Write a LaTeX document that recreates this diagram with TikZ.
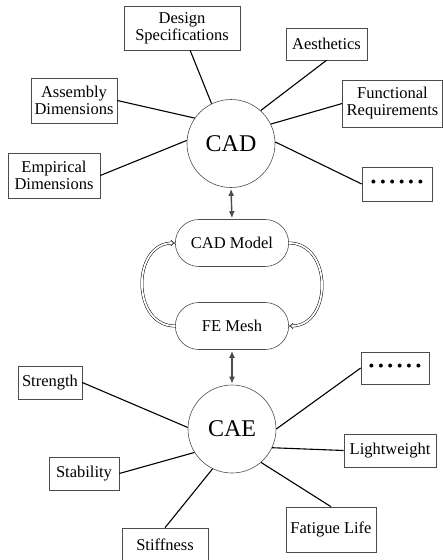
\documentclass[tikz,border=0pt]{standalone}
\usepackage{fontspec}
\setmainfont{Liberation Serif}
\usetikzlibrary{arrows.meta,shapes.misc}
\newcommand{\dotrow}{\textbullet\hspace{3.6pt}\textbullet\hspace{3.6pt}\textbullet\hspace{3.6pt}\textbullet\hspace{3.6pt}\textbullet\hspace{3.6pt}\textbullet}

\begin{document}
\begin{tikzpicture}[x=1pt,y=-1pt,
  link/.style={line width=1.1pt},
  twoway/.style={line width=1.4pt, black!70, shorten <=1pt, shorten >=1pt, {Latex[length=7pt,width=6pt]}-{Latex[length=7pt,width=6pt]}},
  loopback/.style={double, double distance=1.8pt, line width=0.5pt, -{Implies}}]
\useasboundingbox (0,0) rectangle (443,560);
 \begin{scope}[every node/.style={draw, black!70, circle, line width=0.6pt, minimum size=88pt, text=black, font=\fontsize{24}{26}\selectfont}]
  \node (cad) at (231,143.5) {CAD};
  \node (cae) at (232,429) {CAE};
 \end{scope}
 \begin{scope}[every node/.style={draw, black!70, rounded rectangle, line width=0.6pt, minimum width=120pt, minimum height=47pt, text=black, font=\fontsize{16.5}{18}\selectfont}]
  \node (model) at (232,243) {CAD Model};
  \node (mesh) at (232,326) {FE Mesh};
 \end{scope}
 \begin{scope}[every node/.style={draw, black!70, line width=0.6pt, align=center, inner xsep=0pt, minimum height=33pt, text=black, font=\fontsize{16.5}{17}\selectfont}]
  % CAD inputs
  \node[minimum width=116pt, minimum height=44pt] (design) at (182,28) {Design\\Specifications};
  \node[minimum width=81pt, minimum height=32pt] (aes) at (326.5,44) {Aesthetics};
  \node[minimum width=86pt, minimum height=45pt] (asm) at (74,100.5) {Assembly\\Dimensions};
  \node[minimum width=100pt, minimum height=47pt] (func) at (392.5,103.5) {Functional\\Requirements};
  \node[minimum width=92pt, minimum height=45pt] (emp) at (54,175.5) {Empirical\\Dimensions};
  \node[minimum width=70pt, minimum height=34pt] (dotsa) at (397,184) {\dotrow};
  % CAE targets
  \node[minimum width=64pt] (strength) at (50,382.5) {Strength};
  \node[minimum width=70pt] (stability) at (84,473.5) {Stability};
  \node[minimum width=86pt, minimum height=34pt] (stiff) at (165,545) {Stiffness};
  \node[minimum width=90pt, minimum height=45pt] (fatigue) at (331,529.5) {Fatigue Life};
  \node[minimum width=92pt] (light) at (390,450.5) {Lightweight};
  \node[minimum width=68pt, minimum height=32pt] (dotsb) at (395,368) {\dotrow};
 \end{scope}
  \path [link] (cad.116) edge (design.-70);
  \path [link] (cad.48) edge (aes.south);
  \path [link] (cad.145) edge (asm.east);
  \path [link] (cad.26) edge (func.west);
  \path [link] (cad.176) edge (emp.east);
  \path [link] (cad.2) edge (dotsa.west);
  \path [link] (cae.178) edge (strength.east);
  \path [link] (cae.212) edge (stability.east);
  \path [link] (cae.244) edge (stiff.north);
  \path [link] (cae.311) edge (fatigue.north);
  \path [link] (cae.335) edge (light.west);
  \path [link] (cae.0) edge (dotsb.west);
  \path [twoway] (cad.south) edge (model.north);
  \path [twoway] (mesh.south) edge (cae.north);
  \draw [loopback] (mesh.west) to[out=180, in=180, looseness=1.35] (model.west);
  \draw [loopback] (model.east) to[out=0, in=0, looseness=1.35] (mesh.east);
\end{tikzpicture}
\end{document}
